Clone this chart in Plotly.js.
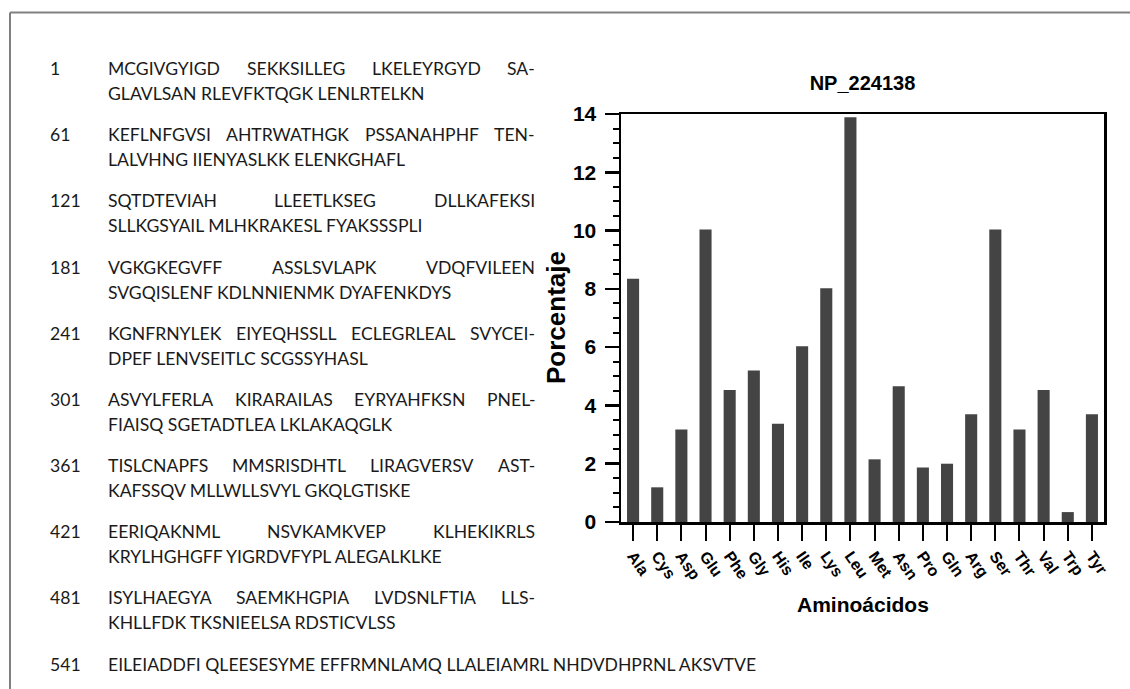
<!DOCTYPE html>
<html>
<head>
<meta charset="utf-8">
<script src="https://cdn.plot.ly/plotly-3.0.1.min.js"></script>
<style>html,body{margin:0;padding:0;background:#fff;}#chart{width:1130px;height:689px;}</style>
</head>
<body>
<div id="chart"></div>
<script>
// ---- data ----
const aminoAcids = ["Ala","Cys","Asp","Glu","Phe","Gly","His","Ile","Lys","Leu","Met","Asn","Pro","Gln","Arg","Ser","Thr","Val","Trp","Tyr"];
const percentages = [8.35,1.19,3.17,10.04,4.53,5.2,3.37,6.03,8.02,13.89,2.15,4.66,1.87,2.0,3.7,10.04,3.17,4.53,0.34,3.7];
const chartTitle = "NP_224138";
const yTitle = "Porcentaje";
const xTitle = "Aminoácidos";
const seqStarts = ["1","61","121","181","241","301","361","421","481","541"];
const seqFirstLines = [
  "MCGIVGYIGD SEKKSILLEG LKELEYRGYD SA-",
  "KEFLNFGVSI AHTRWATHGK PSSANAHPHF TEN-",
  "SQTDTEVIAH LLEETLKSEG DLLKAFEKSI",
  "VGKGKEGVFF ASSLSVLAPK VDQFVILEEN",
  "KGNFRNYLEK EIYEQHSSLL ECLEGRLEAL SVYCEI-",
  "ASVYLFERLA KIRARAILAS EYRYAHFKSN PNEL-",
  "TISLCNAPFS MMSRISDHTL LIRAGVERSV AST-",
  "EERIQAKNML NSVKAMKVEP KLHEKIKRLS",
  "ISYLHAEGYA SAEMKHGPIA LVDSNLFTIA LLS-",
  "EILEIADDFI QLEESESYME EFFRMNLAMQ LLALEIAMRL NHDVDHPRNL AKSVTVE"
];
const seqSecondLines = [
  "GLAVLSAN RLEVFKTQGK LENLRTELKN",
  "LALVHNG IIENYASLKK ELENKGHAFL",
  "SLLKGSYAIL MLHKRAKESL FYAKSSSPLI",
  "SVGQISLENF KDLNNIENMK DYAFENKDYS",
  "DPEF LENVSEITLC SCGSSYHASL",
  "FIAISQ SGETADTLEA LKLAKAQGLK",
  "KAFSSQV MLLWLLSVYL GKQLGTISKE",
  "KRYLHGHGFF YIGRDVFYPL ALEGALKLKE",
  "KHLLFDK TKSNIEELSA RDSTICVLSS",
  ""
];

// ---- layout helpers ----
const L = 621, R = 1104, T = 113.5, B = 521.7;
const px2x = px => (px - L) / (R - L);
const py2y = py => (B - py) / (B - T);

const seqFont = "Lato";
const ctx = document.createElement("canvas").getContext("2d");
function measure(t, size) { ctx.font = size + "px " + seqFont; return ctx.measureText(t).width; }
// font size so that the last (unjustified) line spans the reference width
const lastLineWidth = 650;
const fs = Math.round(lastLineWidth / measure(seqFirstLines[9], 100) * 100 * 10) / 10;

const numX = 50, textX = 108, textRight = 535;
const firstY = 68, blockStep = 66.2, lineStep = 25;
const annotations = [];
function addText(t, x, y, anchor) {
  annotations.push({xref: "paper", yref: "paper", x: px2x(x), y: py2y(y), xanchor: anchor || "left", yanchor: "middle",
    text: t, showarrow: false, borderpad: 0, borderwidth: 0, font: {family: seqFont, size: fs, color: "#1a1a1a"}});
}
seqStarts.forEach((n, i) => {
  const y = firstY + i * blockStep;
  addText(n, numX, y);
  const words = seqFirstLines[i].split(" ");
  if (i === seqStarts.length - 1) {
    addText(seqFirstLines[i], textX, y);
  } else {
    const widths = words.map(w => measure(w, fs));
    const gap = (textRight - textX - widths.reduce((a, b) => a + b, 0)) / (words.length - 1);
    let x = textX;
    words.forEach((w, k) => { addText(w, x, y); x += widths[k] + gap; });
  }
  if (seqSecondLines[i]) addText(seqSecondLines[i], textX, y + lineStep);
});

const boldFont = {family: "Liberation Sans, Arial, sans-serif", color: "#000", weight: "bold"};
annotations.push({xref: "paper", yref: "paper", x: px2x(556), y: 0.5, textangle: -90, showarrow: false,
  text: yTitle, font: Object.assign({}, boldFont, {size: 26}), xanchor: "center", yanchor: "middle"});
annotations.push({xref: "paper", yref: "paper", x: 0.5, y: py2y(604), showarrow: false,
  text: xTitle, font: Object.assign({}, boldFont, {size: 21}), xanchor: "center", yanchor: "middle"});

const shapes = [
  {type: "line", xref: "paper", yref: "paper", x0: px2x(10), x1: px2x(1132), y0: py2y(12), y1: py2y(12), line: {color: "#808080", width: 2}},
  {type: "line", xref: "paper", yref: "paper", x0: px2x(10), x1: px2x(10), y0: py2y(12), y1: py2y(692), line: {color: "#808080", width: 2}}
];

const trace = {type: "bar", x: aminoAcids, y: percentages, marker: {color: "#444444", line: {width: 0}}, hoverinfo: "skip"};

const layout = {
  width: 1130, height: 689,
  margin: {l: L, r: 1130 - R, t: T, b: 689 - B, pad: 0},
  paper_bgcolor: "#fff", plot_bgcolor: "#fff",
  showlegend: false, bargap: 0.5,
  title: {text: chartTitle, font: Object.assign({}, boldFont, {size: 20}), x: 0.5, xref: "paper", xanchor: "center",
    y: 1 - 83 / 689, yref: "container", yanchor: "middle"},
  xaxis: {type: "category", range: [-0.5, 19.5], showline: true, linecolor: "#000", linewidth: 2.5, mirror: true,
    ticks: "outside", ticklen: 16, tickwidth: 2, tickcolor: "#000", tickangle: 55,
    tickfont: Object.assign({}, boldFont, {size: 16}), showgrid: false, zeroline: false, fixedrange: true},
  yaxis: {range: [0, 14], dtick: 2, tick0: 0, showline: true, linecolor: "#000", linewidth: 2.5, mirror: true,
    ticks: "outside", ticklen: 14, tickwidth: 2.5, tickcolor: "#000", ticklabelstandoff: 4,
    minor: {dtick: 0.5, ticks: "outside", ticklen: 6, tickwidth: 2, tickcolor: "#000", showgrid: false},
    tickfont: Object.assign({}, boldFont, {size: 21}), showgrid: false, zeroline: false, fixedrange: true},
  annotations: annotations, shapes: shapes
};
Plotly.newPlot("chart", [trace], layout, {displayModeBar: false, staticPlot: true});
</script>
</body>
</html>
